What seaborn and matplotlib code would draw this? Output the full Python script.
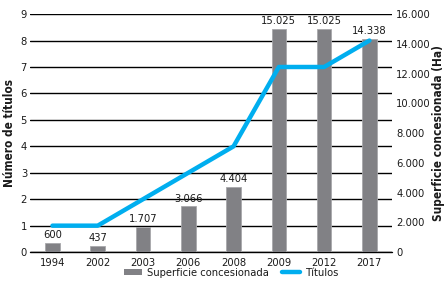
import numpy as np
import pandas as pd
import matplotlib
matplotlib.use("Agg")
import matplotlib.pyplot as plt
import seaborn as sns
from matplotlib.lines import Line2D
from matplotlib.patches import Patch

years = ["1994", "2002", "2003", "2006", "2008", "2009", "2012", "2017"]
superficie = [600, 437, 1707, 3066, 4404, 15025, 15025, 14338]
titulos = [1, 1, 2, 3, 4, 7, 7, 8]
left_ticks = list(range(0, 10))
right_ticks = list(range(0, 16001, 2000))

sns.set_theme(style="white")
plt.rcParams["font.family"] = ["DejaVu Sans"]
plt.rcParams["font.stretch"] = "condensed"

df = pd.DataFrame({"year": years, "sup": superficie, "tit": titulos})

fig = plt.figure(figsize=(4.45, 2.82), dpi=100)
ax = fig.add_axes([0.067, 0.106, 0.814, 0.844])
ax_bar = ax.twinx()
ax_line = ax.twinx()

BAR = "#818185"
CYAN = "#00aeef"
TXT = "#1a1a1a"
fs = 8

# grid axis (left scale)
ax.set_xlim(-0.5, 7.5)
ax.set_ylim(0, 9)
ax.set_yticks(left_ticks)
ax.set_yticklabels([str(t) for t in left_ticks], fontsize=fs, color=TXT)
ax.grid(axis="y", color="black", linewidth=1.0)
ax.axhline(0, color="black", linewidth=1.0, clip_on=False)
ax.tick_params(axis="y", length=0, pad=2)
ax.tick_params(axis="x", length=0, pad=4)
for s in ax.spines.values():
    s.set_visible(False)
ax.set_ylabel("Número de títulos", fontsize=8.5, fontweight="bold", labelpad=3, color=TXT)

# bars (right scale)
sns.barplot(data=df, x="year", y="sup", ax=ax_bar, color=BAR, width=0.32,
            saturation=1, edgecolor="#a8a8ab", linewidth=0.6)
ax_bar.set_xlim(-0.5, 7.5)
ax_bar.set_ylim(0, 16000)
ax_bar.set_yticks(right_ticks)
ax_bar.set_yticklabels([f"{t:,}".replace(",", ".") for t in right_ticks], fontsize=fs, color=TXT)
ax_bar.tick_params(axis="y", length=0, pad=3)
ax_bar.set_ylabel("Superficie concesionada (Ha)", fontsize=8.5, fontweight="bold", labelpad=1, color=TXT)
ax_bar.set_xlabel("")
for s in ax_bar.spines.values():
    s.set_visible(False)
ax_bar.bar_label(ax_bar.containers[0],
                 labels=[f"{v:,}".replace(",", ".") for v in superficie],
                 fontsize=fs, padding=2, color=TXT)

# line (left scale)
sns.lineplot(x=np.arange(len(years)), y=titulos, ax=ax_line, color=CYAN, linewidth=3.2)
ax_line.set_ylim(0, 9)
ax_line.set_xlim(-0.5, 7.5)
ax_line.set_yticks([])
for s in ax_line.spines.values():
    s.set_visible(False)

ax.set_xticks(range(len(years)))
ax.set_xticklabels(years, fontsize=fs, color=TXT)
ax.set_xlabel("")

handles = [Patch(facecolor=BAR, edgecolor="none", label="Superficie concesionada"),
           Line2D([0], [0], color=CYAN, linewidth=3.2, label="Títulos")]
fig.legend(handles=handles, loc="center", bbox_to_anchor=(0.52, 0.032), ncol=2,
           frameon=False, fontsize=fs, handlelength=1.6, handleheight=0.5,
           columnspacing=1.2, handletextpad=0.5, borderaxespad=0, labelcolor=TXT)

fig.savefig("out.png", dpi=100)
